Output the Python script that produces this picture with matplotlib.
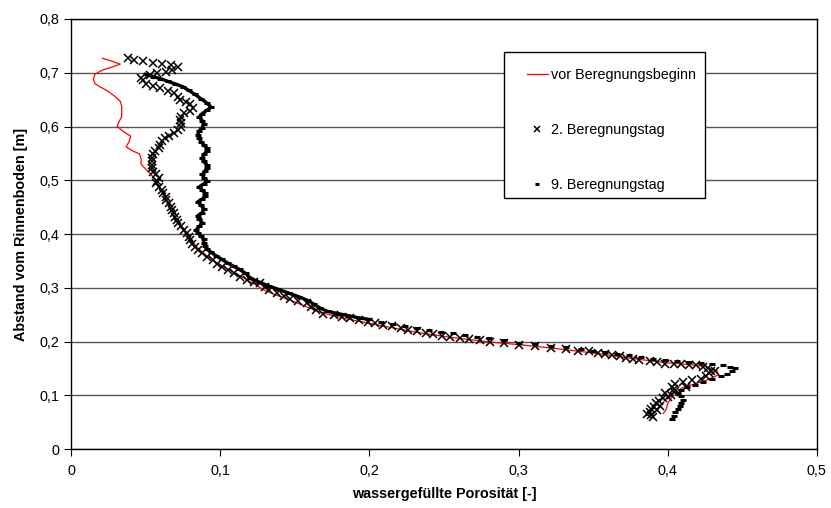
import matplotlib
matplotlib.use("Agg")
import matplotlib.pyplot as plt
from matplotlib.patches import Rectangle
from matplotlib.ticker import FuncFormatter

plt.rcParams['font.family'] = ['Liberation Sans', 'DejaVu Sans']

# vor Beregnungsbeginn (rote Linie)
poro_vor = [0.021, 0.027, 0.033, 0.028, 0.021, 0.016, 0.015, 0.016, 0.020, 0.024,
            0.029, 0.033, 0.034, 0.034, 0.034, 0.032, 0.031, 0.035, 0.040, 0.039,
            0.037, 0.041, 0.046, 0.047, 0.047, 0.050, 0.053, 0.056, 0.058, 0.060,
            0.062, 0.063, 0.065, 0.067, 0.069, 0.071, 0.073, 0.076, 0.079, 0.082,
            0.085, 0.089, 0.093, 0.098, 0.104, 0.111, 0.118, 0.124, 0.130, 0.137,
            0.147, 0.155, 0.162, 0.170, 0.187, 0.209, 0.232, 0.254, 0.281, 0.301,
            0.328, 0.355, 0.375, 0.397, 0.415, 0.424, 0.433, 0.434, 0.427, 0.419,
            0.410, 0.404, 0.402, 0.400, 0.399, 0.397]
tiefe_vor = [0.727, 0.722, 0.716, 0.711, 0.705, 0.697, 0.688, 0.680, 0.673, 0.667,
             0.657, 0.647, 0.638, 0.628, 0.618, 0.608, 0.600, 0.591, 0.582, 0.572,
             0.562, 0.555, 0.549, 0.540, 0.530, 0.521, 0.513, 0.503, 0.494, 0.484,
             0.474, 0.464, 0.454, 0.444, 0.434, 0.424, 0.414, 0.404, 0.394, 0.384,
             0.374, 0.364, 0.356, 0.346, 0.336, 0.326, 0.315, 0.305, 0.295, 0.287,
             0.277, 0.268, 0.260, 0.252, 0.241, 0.229, 0.217, 0.208, 0.199, 0.194,
             0.186, 0.177, 0.169, 0.161, 0.157, 0.154, 0.146, 0.138, 0.129, 0.122,
             0.114, 0.104, 0.094, 0.084, 0.074, 0.066]

# 2. Beregnungstag (Kreuze)
poro_tag2 = [0.038, 0.042, 0.048, 0.055, 0.061, 0.067, 0.072, 0.068, 0.064, 0.058,
             0.053, 0.047, 0.048, 0.050, 0.055, 0.060, 0.065, 0.069, 0.072, 0.073,
             0.077, 0.080, 0.082, 0.080, 0.076, 0.074, 0.073, 0.074, 0.074, 0.072,
             0.069, 0.066, 0.063, 0.061, 0.060, 0.059, 0.056, 0.055, 0.054, 0.054,
             0.054, 0.054, 0.055, 0.057, 0.059, 0.058, 0.057, 0.059, 0.061, 0.062,
             0.064, 0.064, 0.066, 0.067, 0.068, 0.069, 0.070, 0.071, 0.072, 0.074,
             0.076, 0.078, 0.079, 0.080, 0.081, 0.083, 0.085, 0.088, 0.091, 0.095,
             0.098, 0.101, 0.105, 0.109, 0.113, 0.118, 0.123, 0.127, 0.130, 0.133,
             0.138, 0.143, 0.147, 0.152, 0.158, 0.161, 0.164, 0.169, 0.176, 0.182,
             0.187, 0.193, 0.199, 0.204, 0.209, 0.215, 0.221, 0.226, 0.232, 0.238,
             0.243, 0.249, 0.254, 0.261, 0.267, 0.274, 0.281, 0.290, 0.300, 0.311,
             0.322, 0.332, 0.340, 0.347, 0.353, 0.358, 0.363, 0.368, 0.372, 0.377,
             0.381, 0.388, 0.393, 0.398, 0.404, 0.409, 0.414, 0.419, 0.424, 0.427,
             0.429, 0.428, 0.426, 0.422, 0.416, 0.410, 0.405, 0.403, 0.404, 0.404,
             0.402, 0.400, 0.397, 0.394, 0.392, 0.391, 0.389, 0.388, 0.389, 0.390,
             0.386, 0.393, 0.395, 0.398, 0.412, 0.432]
tiefe_tag2 = [0.727, 0.724, 0.721, 0.719, 0.716, 0.714, 0.711, 0.706, 0.702, 0.699,
              0.696, 0.691, 0.686, 0.680, 0.676, 0.671, 0.666, 0.662, 0.655, 0.649,
              0.645, 0.641, 0.635, 0.629, 0.625, 0.618, 0.612, 0.606, 0.600, 0.593,
              0.587, 0.583, 0.578, 0.573, 0.566, 0.560, 0.554, 0.548, 0.541, 0.535,
              0.528, 0.522, 0.516, 0.511, 0.505, 0.499, 0.494, 0.488, 0.482, 0.476,
              0.469, 0.463, 0.457, 0.451, 0.445, 0.439, 0.432, 0.426, 0.420, 0.414,
              0.408, 0.401, 0.395, 0.388, 0.382, 0.376, 0.370, 0.364, 0.358, 0.352,
              0.345, 0.339, 0.333, 0.327, 0.320, 0.314, 0.311, 0.308, 0.302, 0.296,
              0.291, 0.285, 0.280, 0.276, 0.271, 0.265, 0.259, 0.252, 0.249, 0.246,
              0.243, 0.240, 0.237, 0.234, 0.231, 0.228, 0.225, 0.222, 0.219, 0.216,
              0.214, 0.211, 0.209, 0.206, 0.204, 0.202, 0.200, 0.197, 0.194, 0.192,
              0.188, 0.186, 0.183, 0.182, 0.179, 0.177, 0.175, 0.173, 0.170, 0.168,
              0.166, 0.163, 0.161, 0.159, 0.158, 0.158, 0.157, 0.156, 0.153, 0.150,
              0.146, 0.141, 0.135, 0.131, 0.128, 0.124, 0.121, 0.116, 0.111, 0.106,
              0.101, 0.097, 0.094, 0.090, 0.085, 0.079, 0.074, 0.069, 0.064, 0.059,
              0.066, 0.072, 0.080, 0.105, 0.115, 0.145]

# 9. Beregnungstag (Striche)
poro_tag9 = [0.050, 0.055, 0.060, 0.065, 0.070, 0.075, 0.079, 0.083, 0.087, 0.091,
             0.094, 0.091, 0.088, 0.086, 0.088, 0.089, 0.088, 0.086, 0.085, 0.086,
             0.087, 0.089, 0.091, 0.091, 0.089, 0.088, 0.089, 0.091, 0.091, 0.090,
             0.088, 0.089, 0.091, 0.089, 0.086, 0.088, 0.090, 0.090, 0.088, 0.085,
             0.087, 0.089, 0.088, 0.085, 0.086, 0.088, 0.086, 0.084, 0.085, 0.087,
             0.089, 0.089, 0.090, 0.091, 0.094, 0.097, 0.101, 0.105, 0.109, 0.113,
             0.117, 0.120, 0.126, 0.132, 0.139, 0.146, 0.153, 0.159, 0.163, 0.167,
             0.172, 0.179, 0.186, 0.193, 0.200, 0.208, 0.216, 0.224, 0.232, 0.240,
             0.248, 0.256, 0.264, 0.272, 0.280, 0.290, 0.300, 0.311, 0.322, 0.332,
             0.342, 0.350, 0.358, 0.366, 0.374, 0.382, 0.390, 0.398, 0.406, 0.414,
             0.422, 0.430, 0.437, 0.442, 0.445, 0.443, 0.440, 0.436, 0.430, 0.424,
             0.418, 0.413, 0.409, 0.407, 0.409, 0.410, 0.409, 0.408, 0.407, 0.405,
             0.404, 0.403]
tiefe_tag9 = [0.697, 0.693, 0.689, 0.684, 0.679, 0.674, 0.667, 0.660, 0.652, 0.644,
              0.636, 0.630, 0.624, 0.618, 0.611, 0.604, 0.598, 0.592, 0.585, 0.579,
              0.572, 0.566, 0.560, 0.554, 0.548, 0.541, 0.535, 0.529, 0.523, 0.517,
              0.511, 0.505, 0.499, 0.493, 0.488, 0.482, 0.476, 0.470, 0.465, 0.460,
              0.454, 0.447, 0.440, 0.434, 0.428, 0.421, 0.414, 0.408, 0.402, 0.397,
              0.390, 0.384, 0.378, 0.372, 0.366, 0.360, 0.353, 0.346, 0.340, 0.334,
              0.327, 0.318, 0.311, 0.304, 0.297, 0.290, 0.283, 0.276, 0.269, 0.262,
              0.256, 0.252, 0.248, 0.244, 0.241, 0.237, 0.233, 0.229, 0.225, 0.222,
              0.218, 0.215, 0.212, 0.209, 0.206, 0.202, 0.198, 0.195, 0.192, 0.189,
              0.186, 0.183, 0.180, 0.177, 0.174, 0.171, 0.168, 0.166, 0.164, 0.162,
              0.160, 0.158, 0.156, 0.153, 0.150, 0.145, 0.140, 0.135, 0.130, 0.125,
              0.120, 0.115, 0.110, 0.104, 0.098, 0.092, 0.086, 0.080, 0.074, 0.068,
              0.062, 0.056]

x_ticks = [0, 0.1, 0.2, 0.3, 0.4, 0.5]
y_ticks = [0, 0.1, 0.2, 0.3, 0.4, 0.5, 0.6, 0.7, 0.8]


def komma(v, pos):
    if v == 0:
        return "0"
    return ("%.1f" % v).replace(".", ",")


def main():
    fig = plt.figure(figsize=(8.31, 5.08), dpi=100)
    ax = fig.add_axes([0.0854, 0.1161, 0.8976, 0.8465])

    ax.plot(poro_vor, tiefe_vor, color="red", lw=0.9, label="vor Beregnungsbeginn", zorder=3)

    # oberer Teil: die dicht liegenden Striche wirken wie eine dicke Linie
    oben = [i for i, t in enumerate(tiefe_tag9) if t > 0.24]
    ax.plot([poro_tag9[i] for i in oben], [tiefe_tag9[i] for i in oben],
            color="black", lw=2.4, zorder=4)
    ax.plot(poro_tag2, tiefe_tag2, ls="none", marker="x", ms=5.5, mew=1.1,
            color="black", label="2. Beregnungstag", zorder=4)
    ax.plot(poro_tag9, tiefe_tag9, ls="none", marker="_", ms=4.5, mew=2.2,
            color="black", label="9. Beregnungstag", zorder=5)

    ax.set_xlim(0, 0.5)
    ax.set_ylim(0, 0.8)
    ax.set_xticks(x_ticks)
    ax.set_yticks(y_ticks)
    ax.xaxis.set_major_formatter(FuncFormatter(komma))
    ax.yaxis.set_major_formatter(FuncFormatter(komma))
    ax.tick_params(direction="out", length=5, width=0.8, labelsize=10.4, colors="black")
    ax.tick_params(axis="x", pad=6)
    ax.yaxis.grid(True, color="#555555", lw=1)
    ax.set_axisbelow(True)
    for s in ax.spines.values():
        s.set_linewidth(1)
        s.set_color("black")

    ax.set_xlabel("wassergefüllte Porosität [-]", fontsize=10.4, fontweight="bold", labelpad=6)
    ax.set_ylabel("Abstand vom Rinnenboden [m]", fontsize=10.4, fontweight="bold", labelpad=8)

    # Legendenrahmen wie im Excel-Original
    rahmen = Rectangle((0.5804, 0.5837), 0.2694, 0.3395, transform=ax.transAxes,
                       facecolor="white", edgecolor="black", lw=1, zorder=6)
    ax.add_patch(rahmen)
    leg = ax.legend(loc="upper left", bbox_to_anchor=(0.6113, 0.886), fontsize=10.4,
                    labelspacing=2.85, borderpad=0, borderaxespad=0,
                    handlelength=1.45, handletextpad=0.25, frameon=False, markerscale=0.7)
    leg.set_zorder(7)

    fig.savefig("out.png", dpi=100)


if __name__ == "__main__":
    main()
